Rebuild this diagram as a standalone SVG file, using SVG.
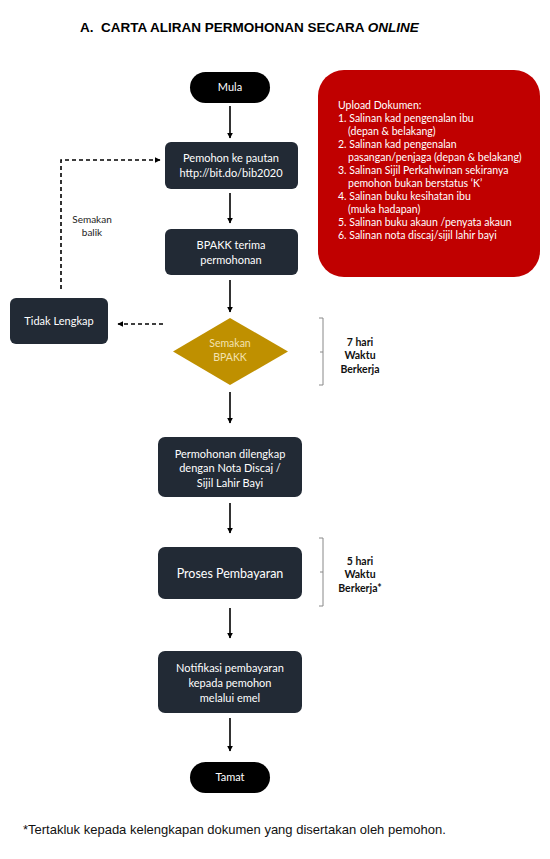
<svg xmlns="http://www.w3.org/2000/svg" width="550" height="859" viewBox="0 0 550 859">
<defs>
<marker id="ah" viewBox="0 0 10 10" refX="9" refY="5" markerWidth="6" markerHeight="6" markerUnits="userSpaceOnUse" orient="auto"><path d="M0,0 L10,5 L0,10 z" fill="#000"/></marker>
<style>
.node{fill:#222a35}
.pill{fill:#000}
.t{font-family:Lato,"Liberation Sans",sans-serif;font-size:11px;fill:#fff;text-anchor:middle}
.lbl{font-family:Lato,"Liberation Sans",sans-serif;font-size:10px;fill:#222;text-anchor:middle}
.b{font-family:Lato,"Liberation Sans",sans-serif;font-size:10.5px;font-weight:bold;fill:#111;text-anchor:middle}
.red{font-family:Lato,"Liberation Sans",sans-serif;font-size:10.5px;fill:#fff}
.c{stroke:#000;stroke-width:1.6;fill:none;marker-end:url(#ah)}
.d{stroke:#000;stroke-width:1.6;fill:none;stroke-dasharray:4,3}
.br{stroke:#888;stroke-width:1;fill:none}
</style>
</defs>
<rect width="550" height="859" fill="#fff"/>
<text x="80" y="32" font-family="Liberation Sans,Arial,sans-serif" font-size="13.5" font-weight="bold" fill="#000">A.</text>
<text x="101" y="32" font-family="Liberation Sans,Arial,sans-serif" font-size="13.5" font-weight="bold" fill="#000">CARTA ALIRAN PERMOHONAN SECARA <tspan font-style="italic">ONLINE</tspan></text>

<g id="mula"><rect class="pill" x="190" y="72" width="80" height="31" rx="15.5"/><text class="t" x="230" y="91">Mula</text></g>

<g id="upload"><rect x="318" y="70" width="222" height="207" rx="26" fill="#c00000"/>
<text class="red" x="338" y="109">Upload Dokumen:</text>
<text class="red" x="338" y="122">1. Salinan kad pengenalan ibu</text>
<text class="red" x="348" y="135">(depan &amp; belakang)</text>
<text class="red" x="338" y="148">2. Salinan kad pengenalan</text>
<text class="red" x="348" y="161">pasangan/penjaga (depan &amp; belakang)</text>
<text class="red" x="338" y="174">3. Salinan Sijil Perkahwinan sekiranya</text>
<text class="red" x="348" y="187">pemohon bukan berstatus ‘K’</text>
<text class="red" x="338" y="200">4. Salinan buku kesihatan ibu</text>
<text class="red" x="348" y="213">(muka hadapan)</text>
<text class="red" x="338" y="226">5. Salinan buku akaun /penyata akaun</text>
<text class="red" x="338" y="239">6. Salinan nota discaj/sijil lahir bayi</text>
</g>

<g id="pemohon"><rect class="node" x="165" y="142" width="133" height="47" rx="6"/><text class="t" x="231" y="162">Pemohon ke pautan</text><text class="t" x="231" y="177">http://bit.do/bib2020</text></g>

<g id="terima"><rect class="node" x="165" y="229" width="133" height="46" rx="6"/><text class="t" x="231" y="249">BPAKK terima</text><text class="t" x="231" y="264">permohonan</text></g>

<g id="semakan"><polygon points="230,318 288,351.5 230,385 173,351.5" fill="#bf9000"/><text class="t" x="230" y="347" style="fill:#f3e2b0;font-size:10.5px">Semakan</text><text class="t" x="230" y="361" style="fill:#f3e2b0;font-size:10.5px">BPAKK</text></g>

<g id="tidak"><rect class="node" x="10" y="298" width="98" height="46" rx="6"/><text class="t" x="59" y="325">Tidak Lengkap</text></g>

<g id="dilengkap"><rect class="node" x="158" y="437" width="144" height="60" rx="7"/><text class="t" x="230" y="458">Permohonan dilengkap</text><text class="t" x="230" y="472">dengan Nota Discaj /</text><text class="t" x="230" y="487">Sijil Lahir Bayi</text></g>

<g id="proses"><rect class="node" x="158" y="547" width="144" height="52" rx="7"/><text class="t" x="230" y="578" style="font-size:12.5px">Proses Pembayaran</text></g>

<g id="notifikasi"><rect class="node" x="158" y="651" width="144" height="62" rx="7"/><text class="t" x="230" y="672">Notifikasi pembayaran</text><text class="t" x="230" y="687">kepada pemohon</text><text class="t" x="230" y="702">melalui emel</text></g>

<g id="tamat"><rect class="pill" x="190" y="762" width="80" height="31" rx="15.5"/><text class="t" x="230" y="781">Tamat</text></g>

<g id="connectors">
<line class="c" x1="230" y1="106" x2="230" y2="138"/>
<line class="c" x1="230" y1="193" x2="230" y2="223"/>
<line class="c" x1="230" y1="280" x2="230" y2="312"/>
<line class="c" x1="230" y1="392" x2="230" y2="423"/>
<line class="c" x1="230" y1="503" x2="230" y2="533"/>
<line class="c" x1="230" y1="608" x2="230" y2="638"/>
<line class="c" x1="230" y1="718" x2="230" y2="751"/>
<line class="d" x1="163" y1="324" x2="118" y2="324" marker-end="url(#ah)"/>
<polyline class="d" points="61,289 61,160 160,160" marker-end="url(#ah)"/>
</g>
<g id="labels">
<text class="lbl" x="92" y="223">Semakan</text>
<text class="lbl" x="92" y="236">balik</text>
</g>

<g id="bracket1"><path class="br" d="M319,318 L323,318 L323,385 L319,385 M323,352 L320,352"/>
<text class="b" x="360" y="346">7 hari</text><text class="b" x="360" y="359">Waktu</text><text class="b" x="360" y="373">Berkerja</text></g>

<g id="bracket2"><path class="br" d="M319,538 L323,538 L323,606 L319,606 M323,572 L320,572"/>
<text class="b" x="360" y="565">5 hari</text><text class="b" x="360" y="578">Waktu</text><text class="b" x="360" y="592">Berkerja*</text></g>

<text x="23" y="834" font-family="Liberation Sans,Arial,sans-serif" font-size="13" fill="#111">*Tertakluk kepada kelengkapan dokumen yang disertakan oleh pemohon.</text>
</svg>
